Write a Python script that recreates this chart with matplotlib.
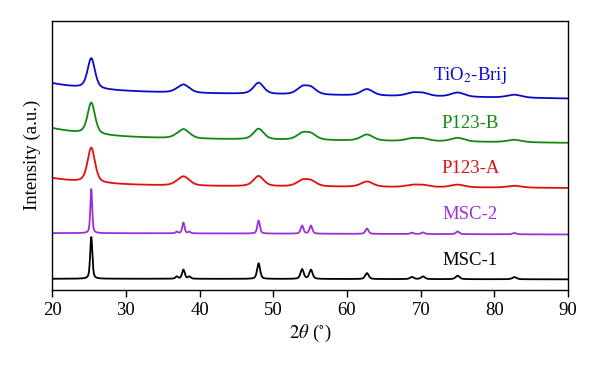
import matplotlib
matplotlib.use('Agg')
import matplotlib.pyplot as plt
import numpy as np

plt.rcParams['font.family'] = ['Liberation Serif', 'DejaVu Serif']
plt.rcParams['mathtext.fontset'] = 'stix'

# anatase reflections (2theta, degrees)
peak_pos = [25.3, 36.9, 37.8, 38.6, 48.0, 53.9, 55.1, 62.7, 68.8, 70.3, 75.0, 82.7]

# peak heights above background (axis units 0..1)
h_msc1 = [0.155, 0.008, 0.034, 0.008, 0.058, 0.036, 0.034, 0.022, 0.008, 0.010, 0.013, 0.008]
h_msc2 = [0.164, 0.006, 0.040, 0.006, 0.048, 0.030, 0.030, 0.020, 0.005, 0.006, 0.010, 0.005]
h_p123a = [0.130, 0.008, 0.028, 0.008, 0.038, 0.020, 0.019, 0.020, 0.007, 0.007, 0.010, 0.007]
h_p123b = [0.117, 0.008, 0.028, 0.008, 0.040, 0.022, 0.021, 0.023, 0.009, 0.009, 0.014, 0.009]
h_brij = [0.113, 0.007, 0.025, 0.007, 0.042, 0.025, 0.024, 0.024, 0.011, 0.011, 0.016, 0.011]

# peak widths at 25 degrees (FWHM, degrees), widening towards high angle
fwhm = {'MSC-1': 0.35, 'MSC-2': 0.3, 'P123-A': 1.2, 'P123-B': 1.2, 'TiO2-Brij': 1.2}

# background levels at 20, 40 and 90 degrees
bg_msc1 = [0.040, 0.040, 0.038]
bg_msc2 = [0.210, 0.209, 0.205]
bg_p123a = [0.415, 0.385, 0.378]
bg_p123b = [0.601, 0.560, 0.546]
bg_brij = [0.768, 0.730, 0.711]

names = ['MSC-1', 'MSC-2', 'P123-A', 'P123-B', 'TiO2-Brij']
labels = ['MSC-1', 'MSC-2', 'P123-A', 'P123-B', r'TiO$_2$-Brij']
heights = [h_msc1, h_msc2, h_p123a, h_p123b, h_brij]
backgrounds = [bg_msc1, bg_msc2, bg_p123a, bg_p123b, bg_brij]
colors = ['#000000', '#9B30D9', '#E01010', '#118811', '#0A0ACC']
label_y = [0.108, 0.279, 0.450, 0.617, 0.795]


def pattern(x, h, bg, w0):
    b0, b1, b2 = bg
    lin = b2 + (b1 - b2) * (90 - x) / 50.0
    y = lin + (b0 - (b2 + (b1 - b2) * 1.4)) * np.exp(-(x - 20) / 6.0)
    for p, a in zip(peak_pos, h):
        w = w0 * (1 + (p - 25.3) / 60.0)
        g = np.exp(-4 * np.log(2) * (x - p) ** 2 / w ** 2)
        l = 1.0 / (1 + 4 * (x - p) ** 2 / w ** 2)
        y = y + a * (0.5 * g + 0.5 * l)
    return y


two_theta = np.linspace(20, 90, 3000)

fig = plt.figure(figsize=(6, 3.79), dpi=100)
ax = fig.add_axes([0.087, 0.236, 0.860, 0.709])

for n, lab, h, bg, c, ly in zip(names, labels, heights, backgrounds, colors, label_y):
    ax.plot(two_theta, pattern(two_theta, h, bg, fwhm[n]), color=c, lw=1.3)
    ax.text(76.7, ly, lab, color=c, fontsize=13.5, ha='center', va='center')

ax.set_xlim(20, 90)
ax.set_ylim(0, 1)
ax.set_xticks(np.arange(20, 91, 10))
ax.set_yticks([])
ax.tick_params(axis='x', direction='out', length=5, width=1, labelsize=13.5, pad=4)
for s in ax.spines.values():
    s.set_linewidth(1)

ax.set_xlabel(r'$2\theta$ ($^{\circ}$)', fontsize=13.5, labelpad=3)
ax.set_ylabel('Intensity (a.u.)', fontsize=13.5, labelpad=8)

fig.savefig('out.png', dpi=100)
